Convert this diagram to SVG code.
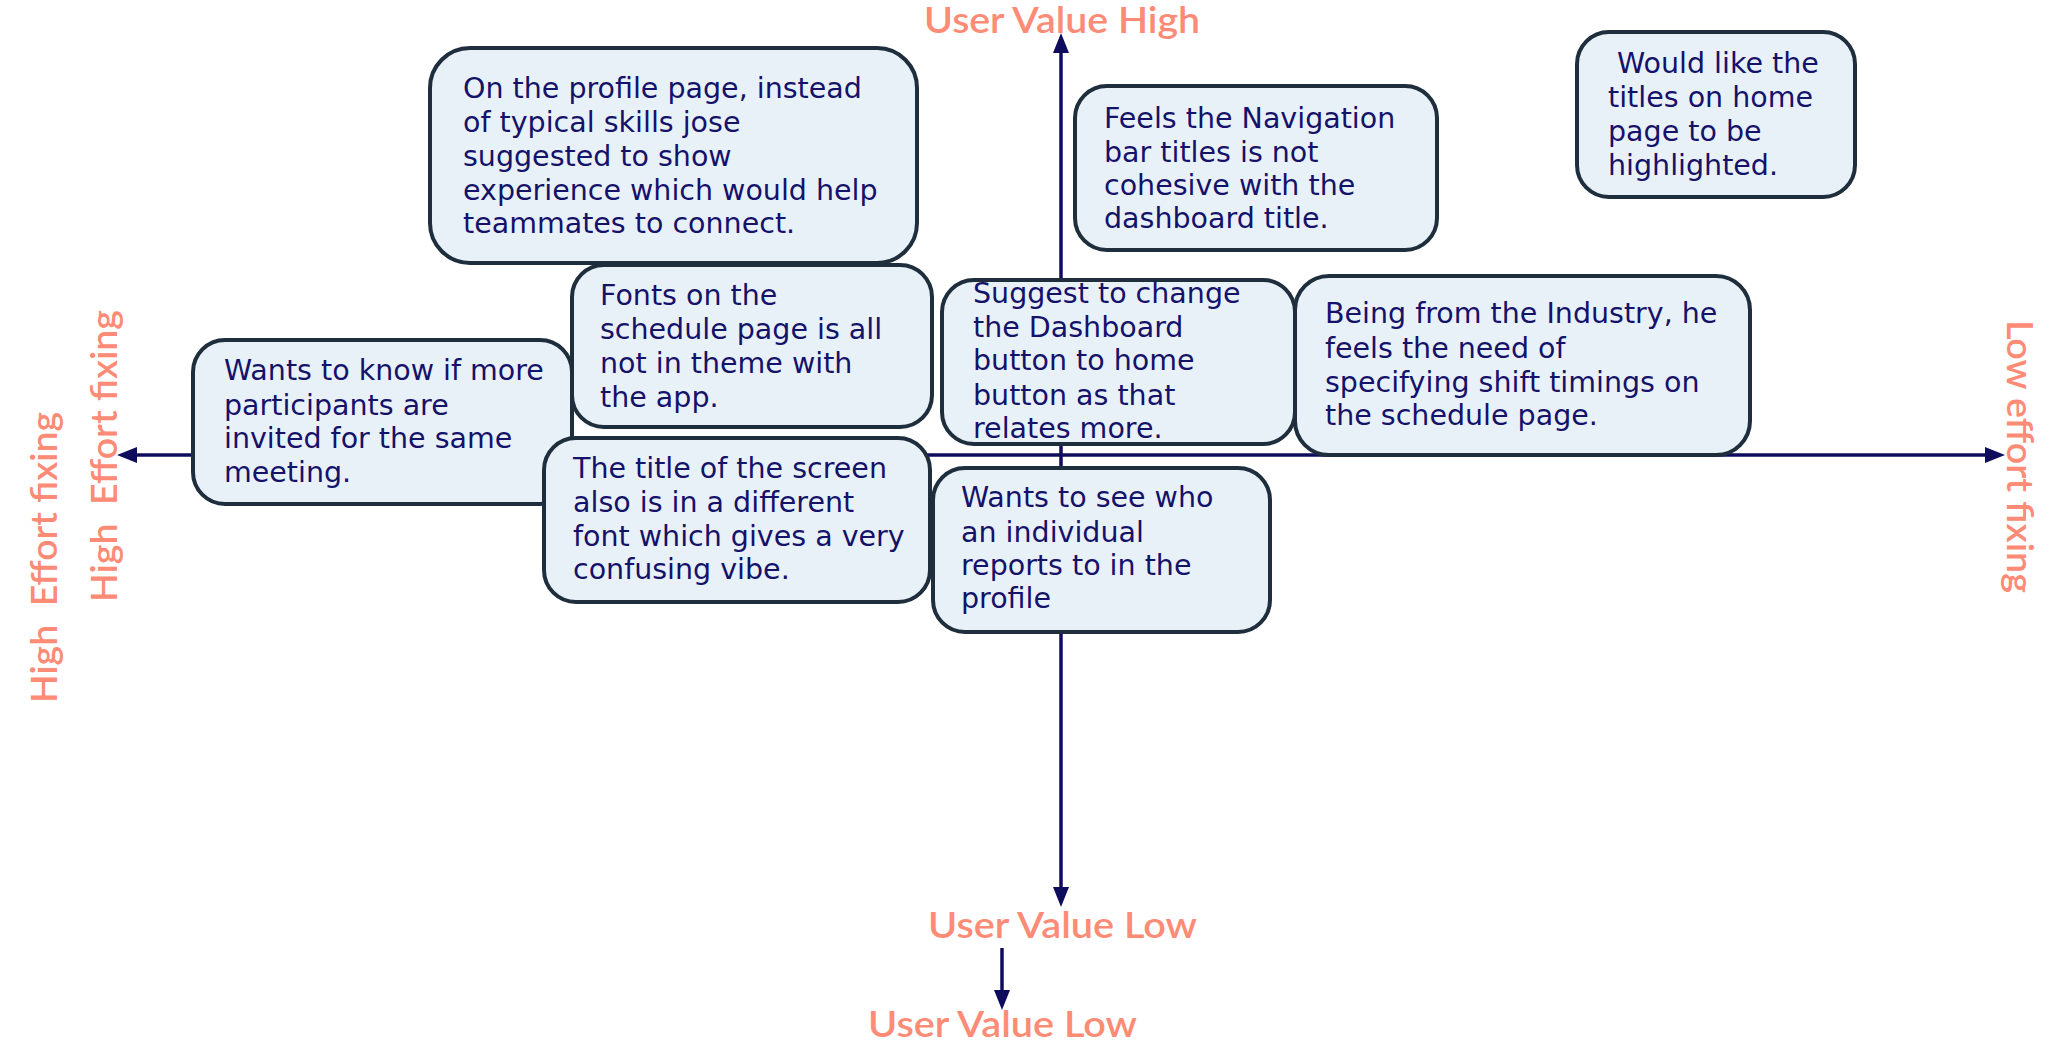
<svg xmlns="http://www.w3.org/2000/svg" width="2058" height="1050" viewBox="0 0 2058 1050">
<style>
.box{fill:#e9f1f8;stroke:#1f2e3d;stroke-width:4}
.t{font-family:"DejaVu Sans",sans-serif;font-size:28.5px;fill:#15126a}
.lbl{font-family:Lato,"Open Sans",sans-serif;font-size:37px;font-weight:600;fill:#fd8b76}
.pre{white-space:pre}
.ax{stroke:#0f0c5e;stroke-width:3.5;fill:none}
</style>
<defs>
<marker id="ah" viewBox="0 0 20 16" refX="10" refY="8" markerWidth="20" markerHeight="16" markerUnits="userSpaceOnUse" orient="auto-start-reverse">
<path d="M0,0 L20,8 L0,16 Z" fill="#0f0c5e"/>
</marker>
</defs>
<rect width="2058" height="1050" fill="#ffffff"/>
<g id="connectors">
<line class="ax" x1="1061" y1="43" x2="1061" y2="897" marker-start="url(#ah)" marker-end="url(#ah)"/>
<line class="ax" x1="127" y1="455" x2="1995" y2="455" marker-start="url(#ah)" marker-end="url(#ah)"/>
<line class="ax" x1="1002" y1="948" x2="1002" y2="1000" marker-end="url(#ah)"/>
</g>
<g id="labels">
<text class="lbl" x="924" y="33" textLength="276" lengthAdjust="spacingAndGlyphs">User Value High</text>
<text class="lbl" x="928" y="938" textLength="269" lengthAdjust="spacingAndGlyphs">User Value Low</text>
<text class="lbl" x="868" y="1037" textLength="269" lengthAdjust="spacingAndGlyphs">User Value Low</text>
<text class="lbl pre" xml:space="preserve" transform="translate(117,602) rotate(-90)" x="0" y="0" textLength="292" lengthAdjust="spacingAndGlyphs">High  Effort fixing</text>
<text class="lbl pre" xml:space="preserve" transform="translate(57,703) rotate(-90)" x="0" y="0" textLength="291" lengthAdjust="spacingAndGlyphs">High  Effort fixing</text>
<text class="lbl" transform="translate(2007,320) rotate(90)" x="0" y="0" textLength="273" lengthAdjust="spacingAndGlyphs">Low effort fixing</text>
</g>
<g id="node-profile">
<rect class="box" x="430" y="48" width="487" height="215" rx="40"/>
<text class="t"><tspan x="463" y="98">On the profile page, instead</tspan><tspan x="463" y="132">of typical skills jose</tspan><tspan x="463" y="166">suggested to show</tspan><tspan x="463" y="200">experience which would help</tspan><tspan x="463" y="233">teammates to connect.</tspan></text>
</g>
<g id="node-navigation">
<rect class="box" x="1075" y="86" width="362" height="164" rx="32"/>
<text class="t"><tspan x="1104" y="128">Feels the Navigation</tspan><tspan x="1104" y="162">bar titles is not</tspan><tspan x="1104" y="195">cohesive with the</tspan><tspan x="1104" y="228">dashboard title.</tspan></text>
</g>
<g id="node-home-titles">
<rect class="box" x="1577" y="32" width="278" height="165" rx="32"/>
<text class="t"><tspan x="1617" y="73">Would like the</tspan><tspan x="1608" y="107">titles on home</tspan><tspan x="1608" y="141">page to be</tspan><tspan x="1608" y="175">highlighted.</tspan></text>
</g>
<g id="node-fonts">
<rect class="box" x="572" y="265" width="360" height="162" rx="32"/>
<text class="t"><tspan x="600" y="305">Fonts on the</tspan><tspan x="600" y="339">schedule page is all</tspan><tspan x="600" y="373">not in theme with</tspan><tspan x="600" y="407">the app.</tspan></text>
</g>
<g id="node-participants">
<rect class="box" x="193" y="340" width="379" height="164" rx="32"/>
<text class="t"><tspan x="224" y="380">Wants to know if more</tspan><tspan x="224" y="415">participants are</tspan><tspan x="224" y="448">invited for the same</tspan><tspan x="224" y="482">meeting.</tspan></text>
</g>
<g id="node-title">
<rect class="box" x="544" y="438" width="386" height="164" rx="32"/>
<text class="t"><tspan x="573" y="478">The title of the screen</tspan><tspan x="573" y="512">also is in a different</tspan><tspan x="573" y="546">font which gives a very</tspan><tspan x="573" y="579">confusing vibe.</tspan></text>
</g>
<g id="node-dashboard">
<rect class="box" x="942" y="280" width="353" height="164" rx="32"/>
<text class="t"><tspan x="973" y="303">Suggest to change</tspan><tspan x="973" y="337">the Dashboard</tspan><tspan x="973" y="370">button to home</tspan><tspan x="973" y="405">button as that</tspan><tspan x="973" y="438">relates more.</tspan></text>
</g>
<g id="node-industry">
<rect class="box" x="1295" y="276" width="455" height="179" rx="34"/>
<text class="t"><tspan x="1325" y="323">Being from the Industry, he</tspan><tspan x="1325" y="358">feels the need of</tspan><tspan x="1325" y="392">specifying shift timings on</tspan><tspan x="1325" y="425">the schedule page.</tspan></text>
</g>
<g id="node-reports">
<rect class="box" x="933" y="468" width="337" height="164" rx="32"/>
<text class="t"><tspan x="961" y="507">Wants to see who</tspan><tspan x="961" y="542">an individual</tspan><tspan x="961" y="575">reports to in the</tspan><tspan x="961" y="608">profile</tspan></text>
</g>
</svg>
